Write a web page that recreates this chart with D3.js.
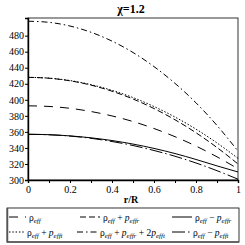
<!DOCTYPE html>
<html>
<head>
<meta charset="utf-8">
<script src="https://cdn.jsdelivr.net/npm/d3@7"></script>
<style>
  body { margin: 0; background: #fff; }
  text { font-family: "Liberation Serif", "DejaVu Serif", serif; }
</style>
</head>
<body>
<div id="chart"></div>
<script>
// r/R sample points
var rr = [0, 0.1, 0.2, 0.3, 0.4, 0.5, 0.6, 0.7, 0.8, 0.9, 1];

// values
var rhoEff        = [392.5, 391.7, 389.4, 385.4, 379.9, 372.9, 364.2, 354.0, 342.3, 328.9, 314];
var rhoPlusPr     = [428, 426.9, 423.7, 418.3, 410.7, 401, 389.1, 375.1, 358.9, 340.5, 320];
var rhoMinusPr    = [357, 356.5, 355.0, 352.6, 349.2, 344.8, 339.4, 333.0, 325.6, 317.6, 310];
var rhoPlusPt     = [428, 427, 424, 418.9, 411.8, 402.8, 391.6, 378.5, 363.4, 346.2, 327];
var rhoPlusPrPt2  = [498, 496.6, 492.0, 484.2, 473.2, 459.0, 441.4, 420.5, 396.2, 368.0, 336];
var rhoMinusPt    = [357, 356.4, 354.8, 352.0, 348.0, 343.0, 336.8, 329.6, 321.2, 311.6, 301];

var yTicks = [300, 320, 340, 360, 380, 400, 420, 440, 460, 480];

var series = [
  {vals: rhoEff,       dash: "9,7"},
  {vals: rhoPlusPr,    dash: "6,3"},
  {vals: rhoMinusPr,   dash: null},
  {vals: rhoPlusPt,    dash: "1.5,1.8"},
  {vals: rhoPlusPrPt2, dash: "6,3,1.5,3"},
  {vals: rhoMinusPt,   dash: "13,3,1.5,3"}
];

var width = 245, height = 245;
var svg = d3.select("#chart").append("svg")
  .attr("width", width)
  .attr("height", height);

var x = d3.scaleLinear().domain([0, 1]).range([28, 238]);
var y = d3.scaleLinear().domain([300, 502]).range([180, 18]);

// frame
svg.append("rect")
  .attr("x", 28).attr("y", 18)
  .attr("width", 210).attr("height", 162)
  .attr("fill", "none")
  .attr("stroke", "#000")
  .attr("stroke-width", 0.8);

// axes
var yAxis = svg.append("g")
  .attr("transform", "translate(28,0)")
  .attr("font-family", null)
  .call(d3.axisLeft(y).tickValues(yTicks).tickSize(3).tickFormat(d3.format("d")));

var xAxis = svg.append("g")
  .attr("transform", "translate(0,180)")
  .call(d3.axisBottom(x).tickValues(d3.range(0, 1.01, 0.1)).tickSize(3)
    .tickFormat(function(d) {
      var v = Math.round(d * 10);
      return (v % 2 === 0) ? d3.format("")(v / 10) : "";
    }));

[yAxis, xAxis].forEach(function(a) {
  a.attr("font-family", "Liberation Serif").attr("font-size", 10);
  a.select(".domain").attr("stroke-width", 1.4);
  a.selectAll("text").attr("fill", "#000");
});
yAxis.selectAll("text").attr("x", -4);
xAxis.selectAll("text").attr("y", 6);

// lines
var line = d3.line()
  .x(function(d, i) { return x(rr[i]); })
  .y(function(d) { return y(d); })
  .curve(d3.curveMonotoneX);

series.forEach(function(s) {
  svg.append("path")
    .datum(s.vals)
    .attr("d", line)
    .attr("fill", "none")
    .attr("stroke", "#000")
    .attr("stroke-width", 1)
    .attr("stroke-dasharray", s.dash);
});

// title
svg.append("text")
  .attr("x", 131).attr("y", 13)
  .attr("text-anchor", "middle")
  .style("font-size", "12px")
  .style("font-weight", "bold")
  .text("χ=1.2");

// x label
svg.append("text")
  .attr("x", 131).attr("y", 203)
  .attr("text-anchor", "middle")
  .style("font-size", "10px")
  .style("font-weight", "bold")
  .text("r/R");

// legend
svg.append("rect")
  .attr("x", 7).attr("y", 208)
  .attr("width", 232).attr("height", 34)
  .attr("fill", "#fff")
  .attr("stroke", "#000")
  .attr("stroke-width", 0.8);
svg.append("path")
  .attr("d", "M7.5,208V242H239")
  .attr("fill", "none")
  .attr("stroke", "#555")
  .attr("stroke-width", 1.5);

var legendItems = [
  {s: 0, x: 9,   y: 221, w: 17, parts: [["ρ", ""], ["eff", "sub"]]},
  {s: 1, x: 80,  y: 221, w: 20, parts: [["ρ", ""], ["eff", "sub"], [" + ", ""], ["p", "it"], ["effr", "sub"]]},
  {s: 2, x: 172, y: 221, w: 20, parts: [["ρ", ""], ["eff", "sub"], [" − ", ""], ["p", "it"], ["effr", "sub"]]},
  {s: 3, x: 9,   y: 236, w: 15, parts: [["ρ", ""], ["eff", "sub"], [" + ", ""], ["p", "it"], ["efft", "sub"]]},
  {s: 4, x: 77,  y: 236, w: 20, parts: [["ρ", ""], ["eff", "sub"], [" + ", ""], ["p", "it"], ["effr", "sub"], [" + 2", ""], ["p", "it"], ["efft", "sub"]]},
  {s: 5, x: 172, y: 236, w: 18, parts: [["ρ", ""], ["eff", "sub"], [" − ", ""], ["p", "it"], ["efft", "sub"]]}
];

legendItems.forEach(function(it) {
  svg.append("line")
    .attr("x1", it.x).attr("x2", it.x + it.w)
    .attr("y1", it.y - 4).attr("y2", it.y - 4)
    .attr("stroke", "#000")
    .attr("stroke-width", 1)
    .attr("stroke-dasharray", series[it.s].dash);
  var t = svg.append("text")
    .attr("x", it.x + it.w + 3).attr("y", it.y)
    .style("font-size", "9.5px")
    .attr("xml:space", "preserve");
  var cur = 0;
  it.parts.forEach(function(p) {
    var ts = t.append("tspan").text(p[0]);
    var target = 0;
    if (p[1] === "sub") {
      ts.style("font-size", "7px").style("font-style", "italic");
      target = 2;
    } else if (p[1] === "it") {
      ts.style("font-style", "italic");
    }
    ts.attr("dy", target - cur);
    cur = target;
  });
});
</script>
</body>
</html>
